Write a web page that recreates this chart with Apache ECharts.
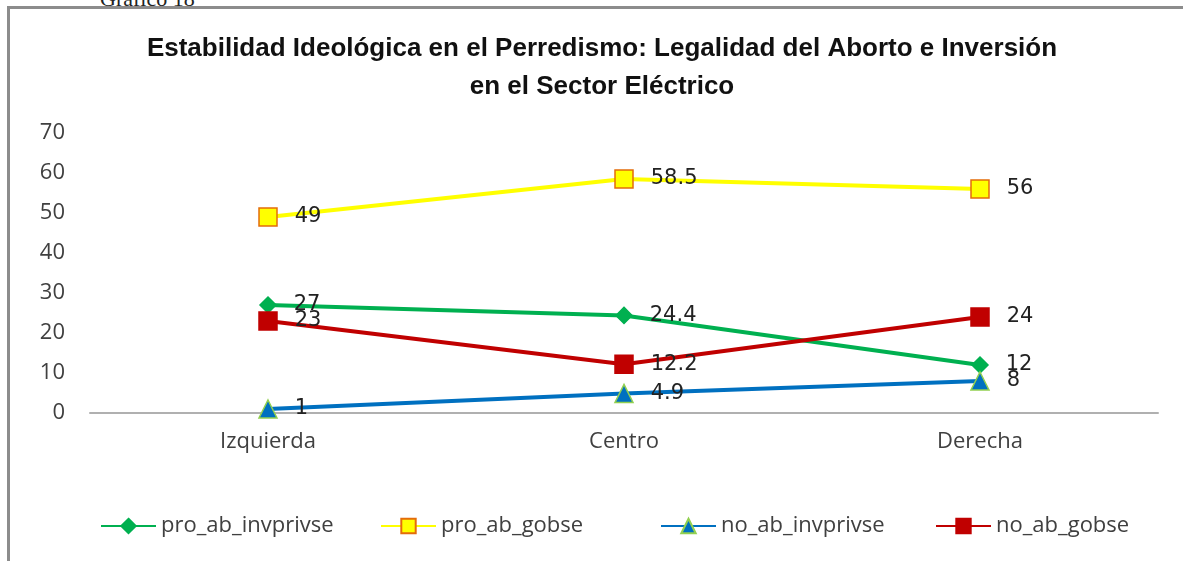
<!DOCTYPE html>
<html>
<head>
<meta charset="utf-8">
<script src="https://cdn.jsdelivr.net/npm/echarts@6/dist/echarts.min.js"></script>
<style>
  html, body { margin: 0; padding: 0; background: #fff; }
  #wrap { position: relative; width: 1183px; height: 561px; overflow: hidden; }
  #frame { position: absolute; left: 7px; top: 6px; width: 1176px; height: 555px;
    border-left: 3px solid #8c8c8c; border-top: 3px solid #8c8c8c; box-sizing: border-box; }
  #cap { position: absolute; left: 100px; top: -14px; font: 22px "Liberation Serif", serif; color: #222; }
  #chart { position: absolute; left: 0; top: 0; width: 1183px; height: 561px; }
</style>
</head>
<body>
<div id="wrap">
  <div id="cap">Gráfico 18</div>
  <div id="frame"></div>
  <div id="chart"></div>
</div>
<script>
(function () {
  var CATEGORIES = ['Izquierda', 'Centro', 'Derecha'];
  var SERIES_NAMES = ['pro_ab_invprivse', 'pro_ab_gobse', 'no_ab_invprivse', 'no_ab_gobse'];
  var PRO_AB_INVPRIVSE = [27, 24.4, 12];
  var PRO_AB_GOBSE = [49, 58.5, 56];
  var NO_AB_INVPRIVSE = [1, 4.9, 8];
  var NO_AB_GOBSE = [23, 12.2, 24];

  var AXIS_TEXT = '#404040';
  var LABEL_FONT = '"DejaVu Sans", Verdana, sans-serif';
  var FONT = '"Liberation Sans Narrow", "Liberation Sans", Arial, sans-serif';
  var SANS = '"Open Sans", "Noto Sans", sans-serif';
  var LEGEND_LEFT = [100, 380, 660, 935];

  function series(name, data, color, symbol, size, markerColor, borderColor) {
    return {
      name: name,
      type: 'line',
      data: data,
      symbol: symbol,
      symbolSize: size,
      lineStyle: { color: color, width: 4 },
      itemStyle: { color: markerColor, borderColor: borderColor, borderWidth: 1.5 },
      label: {
        show: true,
        position: 'right',
        distance: 17,
        fontFamily: LABEL_FONT,
        fontSize: 21,
        color: '#222'
      }
    };
  }

  var legends = SERIES_NAMES.map(function (n, i) {
    return {
      bottom: 24,
      left: LEGEND_LEFT[i],
      padding: 0,
      itemWidth: 55,
      itemHeight: 18,
      textStyle: { fontFamily: SANS, fontSize: 22, color: AXIS_TEXT },
      data: [n]
    };
  });

  var chart = echarts.init(document.getElementById('chart'), null, { renderer: 'canvas' });
  chart.setOption({
    animation: false,
    backgroundColor: 'transparent',
    title: {
      text: 'Estabilidad Ideológica en el Perredismo: Legalidad del Aborto e Inversión\nen el Sector Eléctrico',
      left: 597,
      textAlign: 'center',
      top: 25,
      textStyle: { fontFamily: FONT, fontSize: 26, fontWeight: 'bold', color: '#111', lineHeight: 38 }
    },
    legend: legends,
    grid: { left: 90, right: 25, top: 133, bottom: 148, containLabel: false },
    xAxis: {
      type: 'category',
      data: CATEGORIES,
      axisLine: { lineStyle: { color: '#b0b0b0', width: 2 } },
      axisTick: { show: false },
      axisLabel: { fontFamily: SANS, fontSize: 22, color: AXIS_TEXT, margin: 18 }
    },
    yAxis: {
      type: 'value',
      min: 0,
      max: 70,
      interval: 10,
      axisLine: { show: false },
      axisTick: { show: false },
      splitLine: { show: false },
      axisLabel: { fontFamily: SANS, fontSize: 22, color: AXIS_TEXT, margin: 25 }
    },
    series: [
      series(SERIES_NAMES[0], PRO_AB_INVPRIVSE, '#00b050', 'diamond', 16, '#00b050', '#00b050'),
      series(SERIES_NAMES[1], PRO_AB_GOBSE, '#ffff00', 'rect', 18, '#ffff00', '#e46c0a'),
      series(SERIES_NAMES[2], NO_AB_INVPRIVSE, '#0070c0', 'triangle', 18, '#0070c0', '#92d050'),
      series(SERIES_NAMES[3], NO_AB_GOBSE, '#c00000', 'rect', 18, '#c00000', '#c00000')
    ]
  });
})();
</script>
</body>
</html>
